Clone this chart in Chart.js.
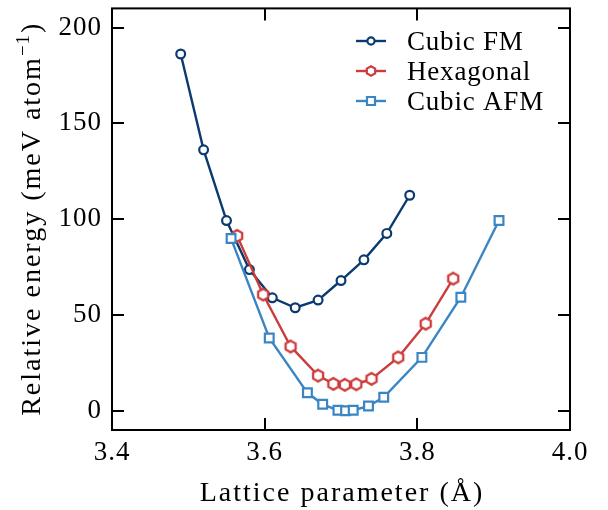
<!DOCTYPE html>
<html>
<head>
<meta charset="utf-8">
<script src="https://cdn.jsdelivr.net/npm/chart.js@4.4.1/dist/chart.umd.min.js"></script>
<style>
  html, body { margin: 0; padding: 0; background: #fff; }
</style>
</head>
<body>
<canvas id="myChart" width="608" height="510"></canvas>
<script>
// valori
var fmX  = [3.49, 3.52, 3.55, 3.58, 3.61, 3.64, 3.67, 3.70, 3.73, 3.76, 3.79];
var fmE  = [186.2, 136.2, 99.3, 73.7, 59.0, 53.8, 57.8, 68.0, 78.8, 92.6, 112.5];

var hexX = [3.564, 3.598, 3.634, 3.670, 3.690, 3.705, 3.720, 3.740, 3.775, 3.811, 3.847];
var hexE = [91.3, 60.7, 33.6, 18.4, 14.1, 13.6, 13.9, 16.7, 27.9, 45.5, 69.0];

var afmX = [3.556, 3.606, 3.656, 3.676, 3.696, 3.706, 3.716, 3.736, 3.756, 3.806, 3.857, 3.907];
var afmE = [89.9, 38.0, 9.4, 3.4, 0.3, 0.0, 0.3, 2.5, 7.1, 27.9, 59.3, 99.3];

var labels = ['Cubic FM', 'Hexagonal', 'Cubic AFM'];
var colors = ['#0b3a6f', '#cd3c3c', '#3a86c4'];

var xTicks = [3.4, 3.6, 3.8, 4.0];
var yTicks = [0, 50, 100, 150, 200];

var xTitle = 'Lattice parameter (Å)';
var yTitle = ['Relative energy (meV atom', '−1', ')'];

var FONT = "'Liberation Serif', serif";

function toPoints(xs, ys) {
  return xs.map(function (x, i) { return { x: x, y: ys[i] }; });
}

// esagono (marker 'h' di matplotlib)
function drawHex(ctx, cx, cy, r) {
  ctx.beginPath();
  for (var i = 0; i < 6; i++) {
    var a = -Math.PI / 2 + i * Math.PI / 3;
    var px = cx + r * Math.cos(a), py = cy + r * Math.sin(a);
    if (i === 0) ctx.moveTo(px, py); else ctx.lineTo(px, py);
  }
  ctx.closePath();
}

function hexMarker(color) {
  var c = document.createElement('canvas');
  c.width = 18; c.height = 18;
  var g = c.getContext('2d');
  drawHex(g, 9, 9, 5.8);
  g.fillStyle = '#fff';
  g.fill();
  g.lineWidth = 2.3;
  g.strokeStyle = color;
  g.stroke();
  return c;
}

// icona della legenda: linea + marker
function legendIcon(color, kind) {
  var c = document.createElement('canvas');
  c.width = 30; c.height = 16;
  var g = c.getContext('2d');
  g.strokeStyle = color;
  g.lineWidth = 2.4;
  g.beginPath(); g.moveTo(0, 8); g.lineTo(30, 8); g.stroke();
  g.fillStyle = '#fff';
  g.lineWidth = 2.2;
  if (kind === 'circle') {
    g.beginPath(); g.arc(15, 8, 3.6, 0, Math.PI * 2);
  } else if (kind === 'rect') {
    g.beginPath(); g.rect(11, 4, 8, 8);
  } else {
    drawHex(g, 15, 8, 4.8);
  }
  g.fill();
  g.stroke();
  return c;
}

var legendIcons = [
  legendIcon(colors[0], 'circle'),
  legendIcon(colors[1], 'hex'),
  legendIcon(colors[2], 'rect')
];

var framePlugin = {
  id: 'frame',
  beforeDraw: function (chart) {
    chart.ctx.letterSpacing = '1px';
  },
  afterDatasetsDraw: function (chart) {
    var ctx = chart.ctx, a = chart.chartArea;
    var xs = chart.scales.x, ys = chart.scales.y;
    var tl = 12;
    ctx.save();
    ctx.strokeStyle = '#000';
    ctx.lineWidth = 2;
    ctx.beginPath();
    xs.ticks.forEach(function (t) {
      var px = Math.round(xs.getPixelForValue(t.value));
      ctx.moveTo(px, a.bottom); ctx.lineTo(px, a.bottom - tl);
      ctx.moveTo(px, a.top); ctx.lineTo(px, a.top + tl);
    });
    ys.ticks.forEach(function (t) {
      var py = Math.round(ys.getPixelForValue(t.value));
      ctx.moveTo(a.left, py); ctx.lineTo(a.left + tl, py);
      ctx.moveTo(a.right, py); ctx.lineTo(a.right - tl, py);
    });
    ctx.stroke();
    ctx.strokeRect(a.left, a.top, a.right - a.left, a.bottom - a.top);

    ctx.fillStyle = '#000';

    // legenda dentro l'area del grafico
    ctx.font = '27px ' + FONT;
    ctx.letterSpacing = '0.8px';
    ctx.textBaseline = 'alphabetic';
    ctx.textAlign = 'left';
    for (var i = 0; i < labels.length; i++) {
      var y = a.top + 33 + i * 30;
      var x0 = a.right - 214;
      ctx.drawImage(legendIcons[i], x0, Math.round(y - 8));
      ctx.fillText(labels[i], x0 + 51, y + 9);
    }

    // titolo asse x
    ctx.font = '28px ' + FONT;
    ctx.letterSpacing = '2px';
    ctx.textAlign = 'center';
    ctx.fillText(xTitle, (a.left + a.right) / 2 + 1, 501);

    // titolo asse y, con esponente
    ctx.save();
    ctx.translate(40, (a.top + a.bottom) / 2);
    ctx.rotate(-Math.PI / 2);
    ctx.textAlign = 'left';
    ctx.font = '28px ' + FONT;
    var w0 = ctx.measureText(yTitle[0]).width;
    ctx.font = '19px ' + FONT;
    ctx.letterSpacing = '1px';
    var w1 = ctx.measureText(yTitle[1]).width;
    ctx.font = '28px ' + FONT;
    ctx.letterSpacing = '2px';
    var w2 = ctx.measureText(yTitle[2]).width;
    var sx = -(w0 + w1 + w2) / 2;
    ctx.fillText(yTitle[0], sx, 0);
    ctx.font = '19px ' + FONT;
    ctx.letterSpacing = '1px';
    ctx.fillText(yTitle[1], sx + w0, -11);
    ctx.font = '28px ' + FONT;
    ctx.letterSpacing = '2px';
    ctx.fillText(yTitle[2], sx + w0 + w1 + 1, 0);
    ctx.restore();

    ctx.restore();
  }
};

var ctx = document.getElementById('myChart').getContext('2d');

var myChart = new Chart(ctx, {
  type: 'line',
  data: {
    datasets: [{
      label: labels[0],
      data: toPoints(fmX, fmE),
      borderColor: colors[0],
      backgroundColor: '#fff',
      borderWidth: 2.4,
      pointStyle: 'circle',
      pointRadius: 4.4,
      pointBorderWidth: 2.2,
      order: 3
    }, {
      label: labels[1],
      data: toPoints(hexX, hexE),
      borderColor: colors[1],
      backgroundColor: '#fff',
      borderWidth: 2.4,
      pointStyle: hexMarker(colors[1]),
      order: 2
    }, {
      label: labels[2],
      data: toPoints(afmX, afmE),
      borderColor: colors[2],
      backgroundColor: '#fff',
      borderWidth: 2.4,
      pointStyle: 'rect',
      pointRadius: 6.2,
      pointBorderWidth: 2.2,
      order: 1
    }]
  },
  options: {
    responsive: false,
    animation: false,
    layout: { padding: { top: 6, right: 38, left: 0, bottom: 0 } },
    plugins: {
      legend: { display: false },
      tooltip: { enabled: false }
    },
    scales: {
      x: {
        type: 'linear',
        min: 3.4,
        max: 4.0,
        afterBuildTicks: function (s) { s.ticks = xTicks.map(function (v) { return { value: v }; }); },
        afterFit: function (s) { s.height = 80; s.paddingLeft = 0; s.paddingRight = 0; },
        grid: { display: false, drawTicks: false },
        border: { display: false },
        ticks: {
          padding: 7,
          color: '#000',
          font: { family: FONT, size: 27 },
          callback: function (v) { return v.toFixed(1); }
        }
      },
      y: {
        type: 'linear',
        min: -10,
        max: 210,
        afterBuildTicks: function (s) { s.ticks = yTicks.map(function (v) { return { value: v }; }); },
        afterFit: function (s) { s.width = 112; s.paddingTop = 0; s.paddingBottom = 0; },
        grid: { display: false, drawTicks: false },
        border: { display: false },
        ticks: {
          padding: 10,
          color: '#000',
          font: { family: FONT, size: 27 },
          callback: function (v) { return String(v); }
        }
      }
    }
  },
  plugins: [framePlugin]
});
</script>
</body>
</html>
